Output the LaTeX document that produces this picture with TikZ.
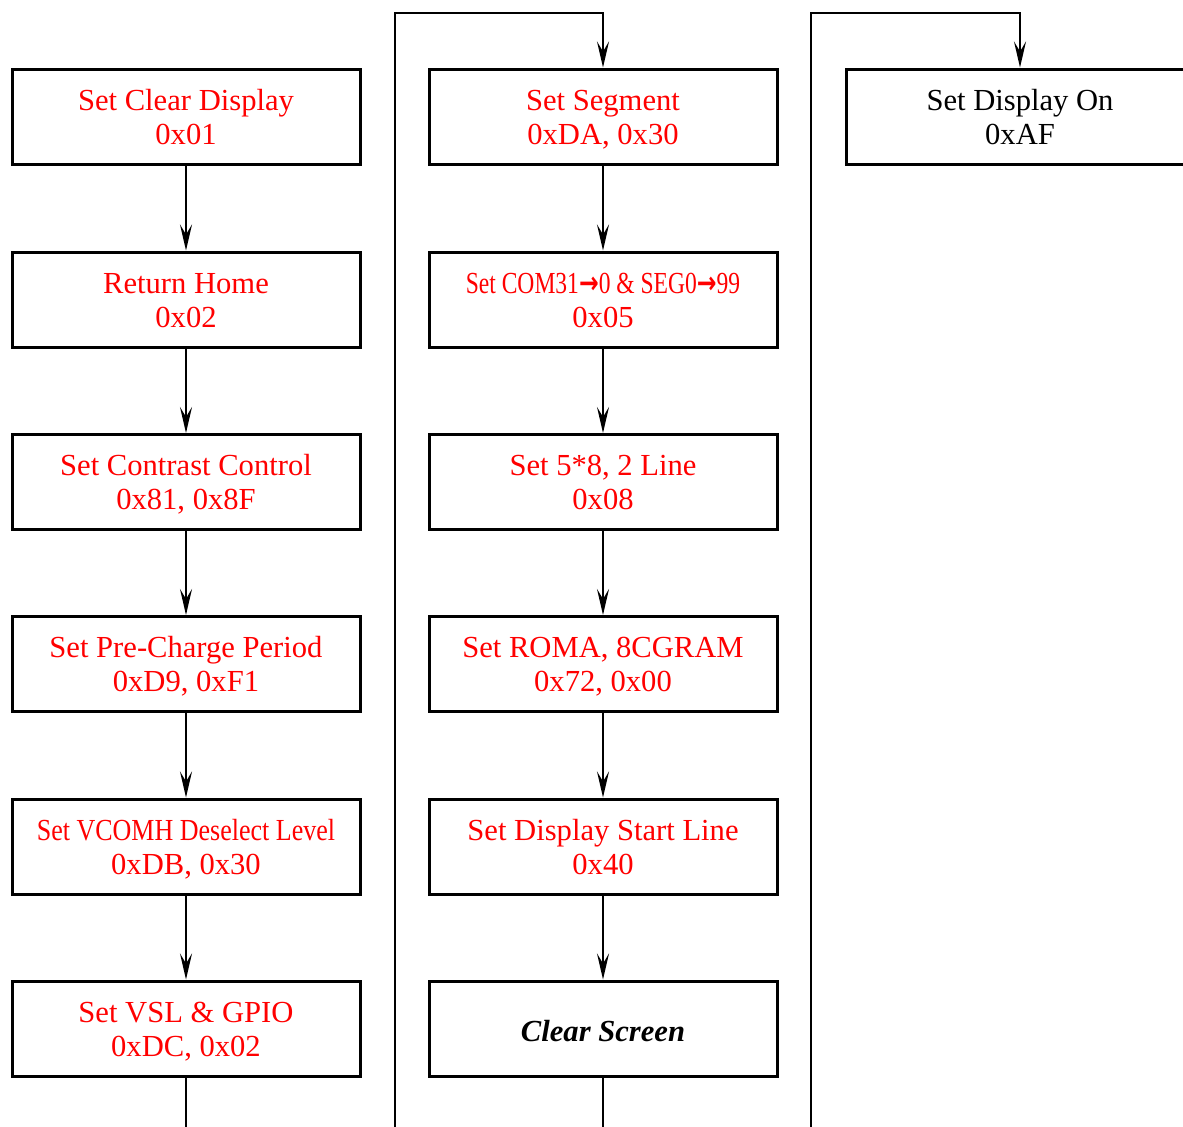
\documentclass[tikz,border=0pt]{standalone}
\usepackage{fontspec}
\setmainfont{Liberation Serif}
\newfontfamily\arrowfont{DejaVu Sans}
\usetikzlibrary{arrows.meta}
\newcommand\rarr{{\arrowfont\bfseries →}}
\newcommand\topstrut{\rule{0pt}{\dimexpr\ht\strutbox+4pt\relax}}
\newcommand\twolines[2]{\topstrut\strut #1\\\strut #2}
\begin{document}
\begin{tikzpicture}[x=0.5pt,y=-0.5pt,
  box/.style={draw, line width=1.5pt, minimum width=174pt, minimum height=47.5pt,
    align=center, text=red, font=\fontsize{15.3}{17}\selectfont, inner sep=0pt},
  blackbox/.style={box, text=black},
  arr/.style={line width=1pt, -{Stealth[length=13pt,width=6pt,inset=5pt]}},
  link/.style={line width=1pt}]
\useasboundingbox (0,0) rectangle (1183,1126);
% column 1
\node[box] (a1) at (186,116.5) {\twolines{Set Clear Display}{0x01}};
\node[box] (a2) at (186,299.5) {\twolines{Return Home}{0x02}};
\node[box] (a3) at (186,482)   {\twolines{Set Contrast Control}{0x81, 0x8F}};
\node[box] (a4) at (186,664)   {\twolines{Set Pre-Charge Period}{0xD9, 0xF1}};
\node[box] (a5) at (186,846.5) {\twolines{\scalebox{0.85}[1]{Set VCOMH Deselect Level}}{0xDB, 0x30}};
\node[box] (a6) at (186,1028.5) {\twolines{Set VSL \& GPIO}{0xDC, 0x02}};
% column 2
\node[box] (b1) at (603,116.5) {\twolines{Set Segment}{0xDA, 0x30}};
\node[box] (b2) at (603,299.5) {\twolines{\scalebox{0.77}[1]{Set COM31\rarr0 \& SEG0\rarr99}}{0x05}};
\node[box] (b3) at (603,482)   {\twolines{Set 5*8, 2 Line}{0x08}};
\node[box] (b4) at (603,664)   {\twolines{Set ROMA, 8CGRAM}{0x72, 0x00}};
\node[box] (b5) at (603,846.5) {\twolines{Set Display Start Line}{0x40}};
\node[blackbox] (b6) at (603,1028.5) {\rule{0pt}{\dimexpr\ht\strutbox+6pt\relax}\strut\bfseries\itshape Clear Screen};
% column 3
\node[blackbox] (c1) at (1020,116.5) {\twolines{Set Display On}{0xAF}};
% coordinates
\coordinate (a6end) at (186,1140);
\coordinate (b6end) at (603,1140);
\coordinate (l1bot) at (395,1140);
\coordinate (l1top) at (395,13);
\coordinate (l2bot) at (811,1140);
\coordinate (l2top) at (811,13);
% arrows
\draw[arr] (a1) -- (a2);
\draw[arr] (a2) -- (a3);
\draw[arr] (a3) -- (a4);
\draw[arr] (a4) -- (a5);
\draw[arr] (a5) -- (a6);
\draw[arr] (b1) -- (b2);
\draw[arr] (b2) -- (b3);
\draw[arr] (b3) -- (b4);
\draw[arr] (b4) -- (b5);
\draw[arr] (b5) -- (b6);
\draw[link] (a6) -- (a6end);
\draw[link] (b6) -- (b6end);
\draw[arr] (l1bot) -- (l1top) -| (b1.north);
\draw[arr] (l2bot) -- (l2top) -| (c1.north);
\end{tikzpicture}
\end{document}
